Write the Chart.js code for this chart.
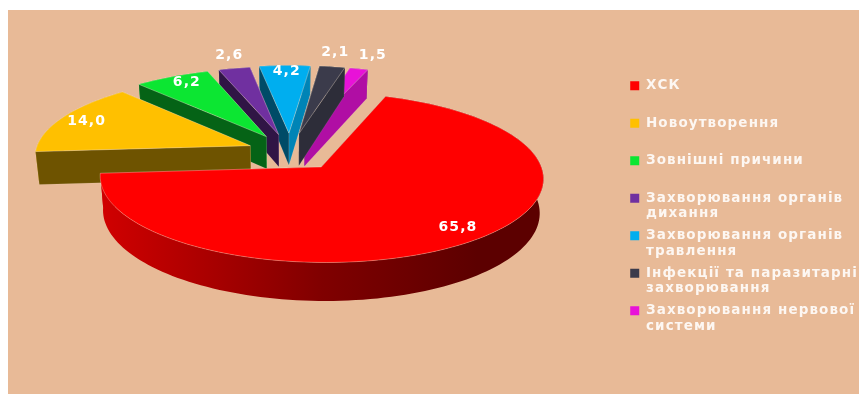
<!DOCTYPE html>
<html>
<head>
<meta charset="utf-8">
<style>
	html, body { margin: 0; background: #fff; }
	#wrap { width: 859px; height: 394px; }
</style>
<script src="https://cdn.jsdelivr.net/npm/chart.js@4/dist/chart.umd.js"></script>
</head>
<body>
<div id="wrap"><canvas id="chart" width="859" height="394"></canvas></div>
<script>
"use strict";

const categories = [
	["ХСК"],
	["Новоутворення"],
	["Зовнішні причини"],
	["Захворювання органів", "дихання"],
	["Захворювання органів", "травлення"],
	["Інфекції та паразитарні", "захворювання"],
	["Захворювання нервової", "системи"],
];
const shares = [65.8, 14.0, 6.2, 2.6, 4.2, 2.1, 1.5];
const sliceColors = ["#ff0000", "#ffc000", "#0ce632", "#7030a0", "#00aeef", "#3b3b4b", "#e812d8"];
const sliceOffsets = [120, 102, 113, 114, 120, 120, 120];

// where each value label sits relative to the middle of its slice's rim
const labelNudges = [[-14, -14], [24, 4], [15, 6], [-5, -13], [2, 6], [3, -14], [14, -13]];

// perspective of the tilted pie, in page pixels
const view = { cx: 290, cy: 151.6, rx: 215, ry: 80, depth: 33, persp: 0.12, floorScale: 0.985 };

function project(u, v, z) {
	const w = 1 / (1 + view.persp * v);
	return {
		x: view.cx + view.rx * u * w * (z ? view.floorScale : 1),
		y: view.cy - view.ry * v * w + z * view.depth * w,
	};
}

function shade(hex, factor) {
	const n = parseInt(hex.slice(1), 16);
	const r = Math.round(((n >> 16) & 255) * factor);
	const g = Math.round(((n >> 8) & 255) * factor);
	const b = Math.round((n & 255) * factor);
	return `rgb(${r}, ${g}, ${b})`;
}

function fillPoly(ctx, points, fill, edge) {
	ctx.beginPath();
	points.forEach((p, i) => (i ? ctx.lineTo(p.x, p.y) : ctx.moveTo(p.x, p.y)));
	ctx.closePath();
	ctx.fillStyle = fill;
	ctx.fill();
	if (edge) {
		ctx.strokeStyle = edge;
		ctx.lineWidth = 0.8;
		ctx.stroke();
	}
}

// plane coordinates of a slice, pushed out along its middle angle by the arc offset
function sliceGeometry(arc) {
	const { startAngle, endAngle, outerRadius } = arc;
	const mid = (startAngle + endAngle) / 2;
	const pull = arc.options.offset / 4 / outerRadius;
	const tip = { u: Math.cos(mid) * pull, v: -Math.sin(mid) * pull };
	const rim = [];
	const steps = Math.max(2, Math.ceil((endAngle - startAngle) / 0.03));
	for (let i = 0; i <= steps; i++) {
		const a = startAngle + ((endAngle - startAngle) * i) / steps;
		rim.push({ u: tip.u + Math.cos(a), v: tip.v - Math.sin(a) });
	}
	return { tip, rim, mid };
}

function rimGradient(ctx, color) {
	const g = ctx.createLinearGradient(view.cx - 190, 0, view.cx + 254, 0);
	g.addColorStop(0, shade(color, 0.82));
	g.addColorStop(0.5, shade(color, 0.5));
	g.addColorStop(0.85, shade(color, 0.36));
	g.addColorStop(1, shade(color, 0.36));
	return g;
}

function drawSlice(ctx, arc, color) {
	const { tip, rim, mid } = sliceGeometry(arc);
	const first = rim[0];
	const last = rim[rim.length - 1];
	const wall = (a, b) => [project(a.u, a.v, 0), project(b.u, b.v, 0), project(b.u, b.v, 1), project(a.u, a.v, 1)];
	const outer = rim.map((p) => project(p.u, p.v, 0)).concat(rim.slice().reverse().map((p) => project(p.u, p.v, 1)));
	const rimFacesViewer = Math.sin(mid) > 0;

	if (!rimFacesViewer) {
		fillPoly(ctx, outer, rimGradient(ctx, color));
	}
	const faces = [
		{ points: wall(tip, first), fill: shade(color, 0.43), depth: first.v },
		{ points: wall(tip, last), fill: shade(color, 0.76), depth: last.v },
	];
	faces.sort((a, b) => b.depth - a.depth);
	faces.forEach((f) => fillPoly(ctx, f.points, f.fill, "rgba(255, 255, 255, 0.12)"));
	if (rimFacesViewer) {
		fillPoly(ctx, outer, rimGradient(ctx, color));
	}

	const top = [project(tip.u, tip.v, 0)].concat(rim.map((p) => project(p.u, p.v, 0)));
	fillPoly(ctx, top, color, "rgba(255, 235, 215, 0.4)");
}

const tiltedPie = {
	id: "tiltedPie",
	beforeUpdate(chart) {
		chart.ctx.letterSpacing = "1.1px"; // legend and labels are set wide
	},
	beforeDraw(chart) {
		const { ctx } = chart;
		ctx.save();
		ctx.fillStyle = "#e8ba97";
		ctx.fillRect(8, 10, 851, 384);
		ctx.restore();
	},
	beforeDatasetsDraw(chart) {
		const { ctx } = chart;
		const arcs = chart.getDatasetMeta(0).data;
		ctx.save();
		// back slices first so the big front slice ends up on top
		for (let i = arcs.length - 1; i >= 0; i--) {
			drawSlice(ctx, arcs[i], sliceColors[i]);
		}
		ctx.fillStyle = "#fff";
		ctx.font = "bold 14px 'DejaVu Sans'";
		ctx.textAlign = "center";
		ctx.textBaseline = "middle";
		arcs.forEach((arc, i) => {
			const { tip, mid } = sliceGeometry(arc);
			const p = project(tip.u + Math.cos(mid), tip.v - Math.sin(mid), 0);
			const text = shares[i].toFixed(1).replace(".", ",");
			ctx.fillText(text, p.x + labelNudges[i][0], p.y + labelNudges[i][1]);
		});
		ctx.restore();
		return false; // the prisms replace the flat arcs
	},
};

new Chart(document.getElementById("chart"), {
	type: "pie",
	data: {
		labels: categories,
		datasets: [
			{
				data: shares,
				backgroundColor: sliceColors,
				borderWidth: 0,
				offset: sliceOffsets,
			},
		],
	},
	options: {
		responsive: false,
		animation: false,
		rotation: 20,
		layout: { padding: { top: 20, right: -9 } },
		plugins: {
			tooltip: { enabled: false },
			legend: {
				position: "right",
				labels: {
					boxWidth: 9,
					boxHeight: 9,
					padding: 6.5,
					color: "rgba(255, 255, 255, 0.88)",
					font: { family: "'DejaVu Sans'", size: 13.5, weight: "bold", lineHeight: 15.5 / 13.5 },
					// every row takes two lines so the rows keep an even pitch
					generateLabels(chart) {
						const base = Chart.overrides.pie.plugins.legend.labels.generateLabels(chart);
						return base.map((item, i) => ({
							...item,
							text: categories[i].length > 1 ? categories[i] : [categories[i][0], ""],
						}));
					},
				},
			},
		},
	},
	plugins: [tiltedPie],
});
</script>
</body>
</html>
